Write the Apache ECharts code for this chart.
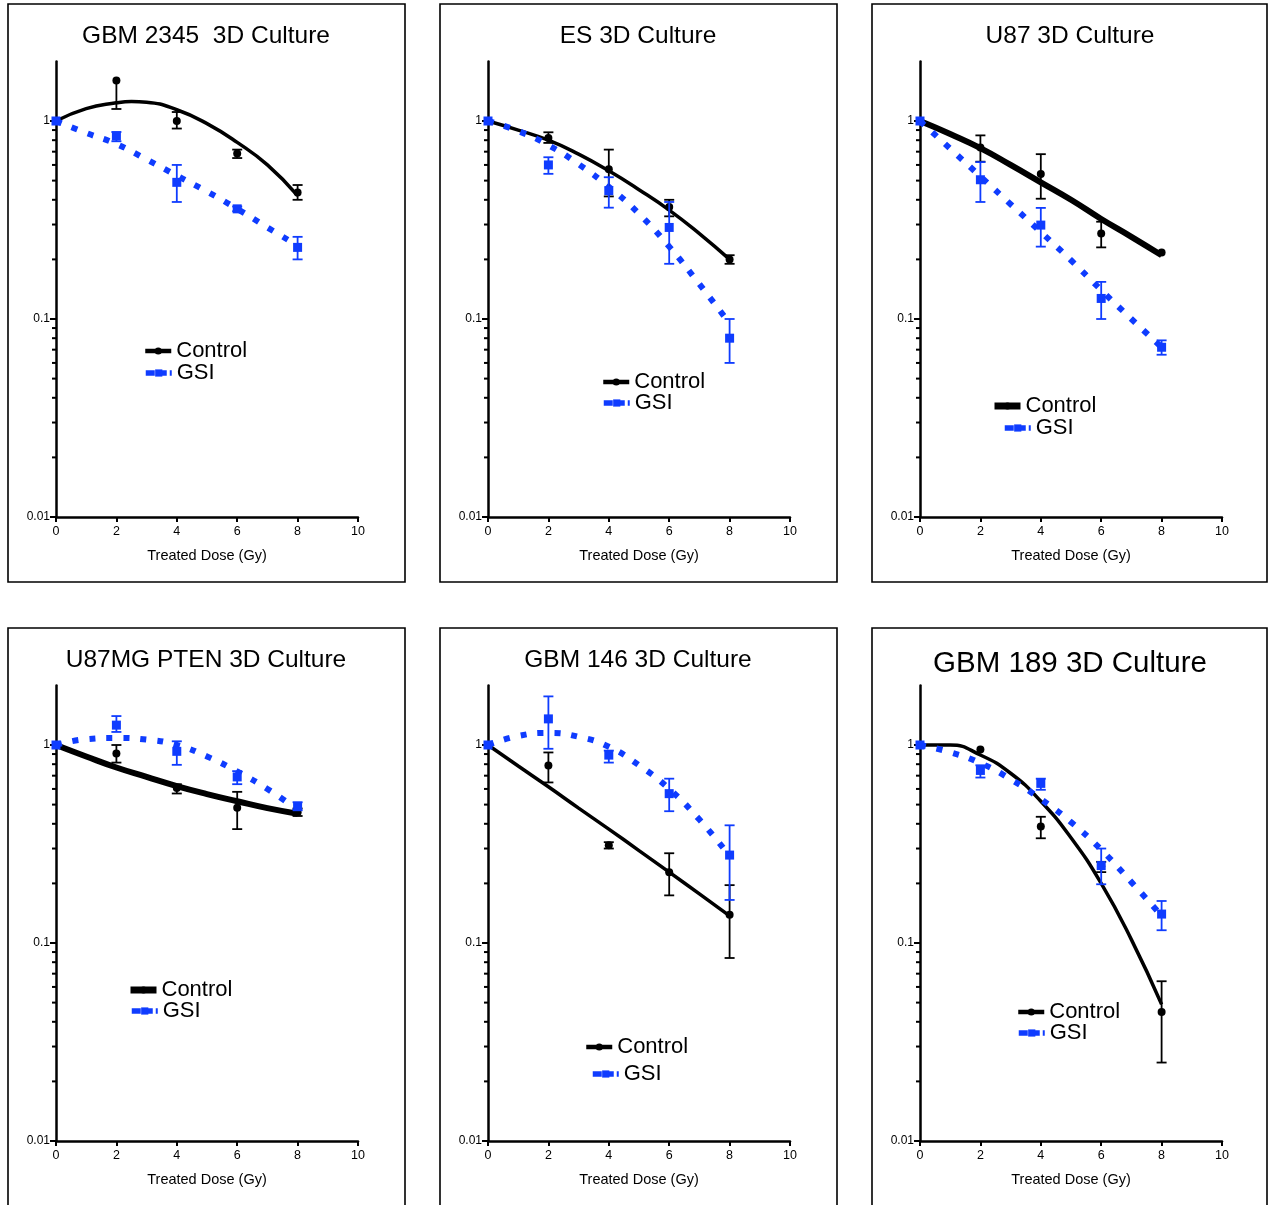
<!DOCTYPE html>
<html><head><meta charset="utf-8">
<script src="https://cdn.jsdelivr.net/npm/echarts@6/dist/echarts.min.js"></script>
<style>html,body{margin:0;padding:0;background:#fff}#c{width:1268px;height:1205px}</style>
</head><body><div id="c"></div><script>
// ---------- DATA ----------
const doses = [0, 2, 4, 6, 8];
const fitDoses = [0, 1, 2, 3, 4, 5, 6, 7, 8];
const fitDosesPeak = [0, 1, 2, 2.5, 3, 4, 5, 6, 7, 8];
const yMajorTicks = [0.01, 0.1, 1];
const yMinorTicks = [0.02, 0.03, 0.04, 0.05, 0.06, 0.07, 0.08, 0.09, 0.2, 0.3, 0.4, 0.5, 0.6, 0.7, 0.8, 0.9];
const xAxisTitle = 'Treated Dose (Gy)';
const seriesLabels = ['Control', 'GSI'];
const panelTitles = ['GBM 2345  3D Culture', 'ES 3D Culture', 'U87 3D Culture', 'U87MG PTEN 3D Culture', 'GBM 146 3D Culture', 'GBM 189 3D Culture'];

// GBM 2345
const gbm2345CtrlMean = [1, 1.60, 1.00, 0.686, 0.435];
const gbm2345CtrlLow  = [1, 1.15, 0.916, 0.65, 0.40];
const gbm2345CtrlHigh = [1, 1.60, 1.11, 0.717, 0.475];
const gbm2345CtrlFit  = [1, 1.155, 1.235, 1.255, 1.245, 1.14, 0.97, 0.78, 0.60, 0.42];   // at fitDosesPeak
const gbm2345GsiMean  = [1, 0.84, 0.49, 0.36, 0.23];
const gbm2345GsiLow   = [1, 0.79, 0.39, 0.35, 0.20];
const gbm2345GsiHigh  = [1, 0.88, 0.60, 0.37, 0.26];
const gbm2345GsiFit   = [1, 0.87, 0.765, 0.64, 0.53, 0.44, 0.36, 0.29, 0.235];
// ES
const esCtrlMean = [1, 0.82, 0.57, 0.368, 0.20];
const esCtrlLow  = [1, 0.775, 0.416, 0.33, 0.19];
const esCtrlHigh = [1, 0.877, 0.717, 0.40, 0.21];
const esCtrlFit  = [1, 0.90, 0.80, 0.68, 0.56, 0.45, 0.355, 0.27, 0.20];
const esGsiMean  = [1, 0.60, 0.445, 0.29, 0.08];
const esGsiLow   = [1, 0.541, 0.365, 0.19, 0.06];
const esGsiHigh  = [1, 0.656, 0.52, 0.39, 0.10];
const esGsiFit   = [1, 0.89, 0.755, 0.605, 0.465, 0.34, 0.232, 0.15, 0.095];
// U87
const u87CtrlMean = [1, 0.735, 0.54, 0.27, 0.217];
const u87CtrlLow  = [1, 0.623, 0.405, 0.23, 0.217];
const u87CtrlHigh = [1, 0.846, 0.68, 0.31, 0.217];
const u87CtrlFit  = [1, 0.86, 0.73, 0.60, 0.49, 0.40, 0.32, 0.26, 0.21];
const u87GsiMean  = [1, 0.505, 0.298, 0.127, 0.072];
const u87GsiLow   = [1, 0.39, 0.232, 0.10, 0.066];
const u87GsiHigh  = [1, 0.62, 0.364, 0.154, 0.078];
const u87GsiFit   = [1, 0.725, 0.525, 0.38, 0.275, 0.198, 0.14, 0.10, 0.072];
// U87MG PTEN
const ptenCtrlMean = [1, 0.905, 0.607, 0.482, 0.457];
const ptenCtrlLow  = [1, 0.815, 0.569, 0.376, 0.438];
const ptenCtrlHigh = [1, 1.0, 0.634, 0.58, 0.478];
const ptenCtrlFit  = [1, 0.875, 0.77, 0.69, 0.62, 0.565, 0.52, 0.48, 0.45];
const ptenGsiMean  = [1, 1.26, 0.929, 0.69, 0.49];
const ptenGsiLow   = [1, 1.164, 0.794, 0.634, 0.468];
const ptenGsiHigh  = [1, 1.40, 1.044, 0.738, 0.514];
const ptenGsiFit   = [1, 1.07, 1.085, 1.065, 1.0, 0.875, 0.735, 0.60, 0.47];
// GBM 146
const gbm146CtrlMean = [1, 0.787, 0.312, 0.228, 0.139];
const gbm146CtrlLow  = [1, 0.647, 0.30, 0.174, 0.084];
const gbm146CtrlHigh = [1, 0.917, 0.323, 0.284, 0.196];
const gbm146CtrlFit  = [1, 0.783, 0.615, 0.48, 0.376, 0.293, 0.228, 0.177, 0.137];
const gbm146GsiMean  = [1, 1.355, 0.889, 0.568, 0.278];
const gbm146GsiLow   = [1, 0.957, 0.815, 0.463, 0.165];
const gbm146GsiHigh  = [1, 1.76, 0.937, 0.676, 0.393];
const gbm146GsiFit   = [1, 1.11, 1.15, 1.10, 0.98, 0.79, 0.60, 0.42, 0.275];
// GBM 189
const gbm189CtrlMean = [1, 0.95, 0.388, 0.244, 0.0448];
const gbm189CtrlLow  = [1, 0.95, 0.338, 0.228, 0.0249];
const gbm189CtrlHigh = [1, 0.95, 0.434, 0.257, 0.0641];
const gbm189CtrlFit  = [1, 1.0, 0.89, 0.72, 0.52, 0.34, 0.20, 0.104, 0.049];
const gbm189GsiMean  = [1, 0.744, 0.64, 0.246, 0.14];
const gbm189GsiLow   = [1, 0.685, 0.594, 0.198, 0.116];
const gbm189GsiHigh  = [1, 0.79, 0.676, 0.30, 0.163];
const gbm189GsiFit   = [1, 0.92, 0.81, 0.672, 0.533, 0.408, 0.296, 0.203, 0.137];

const panelData = [
  {ctrl: [gbm2345CtrlMean, gbm2345CtrlLow, gbm2345CtrlHigh, gbm2345CtrlFit, fitDosesPeak], gsi: [gbm2345GsiMean, gbm2345GsiLow, gbm2345GsiHigh, gbm2345GsiFit, fitDoses]},
  {ctrl: [esCtrlMean, esCtrlLow, esCtrlHigh, esCtrlFit, fitDoses], gsi: [esGsiMean, esGsiLow, esGsiHigh, esGsiFit, fitDoses]},
  {ctrl: [u87CtrlMean, u87CtrlLow, u87CtrlHigh, u87CtrlFit, fitDoses], gsi: [u87GsiMean, u87GsiLow, u87GsiHigh, u87GsiFit, fitDoses]},
  {ctrl: [ptenCtrlMean, ptenCtrlLow, ptenCtrlHigh, ptenCtrlFit, fitDoses], gsi: [ptenGsiMean, ptenGsiLow, ptenGsiHigh, ptenGsiFit, fitDoses]},
  {ctrl: [gbm146CtrlMean, gbm146CtrlLow, gbm146CtrlHigh, gbm146CtrlFit, fitDoses], gsi: [gbm146GsiMean, gbm146GsiLow, gbm146GsiHigh, gbm146GsiFit, fitDoses]},
  {ctrl: [gbm189CtrlMean, gbm189CtrlLow, gbm189CtrlHigh, gbm189CtrlFit, fitDoses], gsi: [gbm189GsiMean, gbm189GsiLow, gbm189GsiHigh, gbm189GsiFit, fitDoses]}
];

// ---------- LAYOUT / STYLE ----------
const FONT = 'Liberation Sans, Arial, sans-serif';
const BLUE = '#0f3cff';
const ctrlWidths = [3.5, 3.5, 6, 6, 3.5, 3.5];
const titleSizes = [24.5, 24.5, 24.5, 24.5, 24.5, 29.5];
const titleCY = [36, 36, 36, 660, 660, 664];
// legend text-left x, text-center y for [Control, GSI]
const legendPos = [
  [[175, 351], [175, 373]],
  [[633, 382], [633, 403]],
  [[1023, 406], [1034, 428]],
  [[159, 990], [161, 1011]],
  [[616, 1047], [622, 1074]],
  [[1048, 1012], [1048, 1033]]
];

const grids = [], xAxes = [], yAxes = [], series = [], titles = [], legends = [], boxes = [];
function isMajor(v) { const l = Math.log10(v); return Math.abs(l - Math.round(l)) < 1e-6; }

for (let i = 0; i < 6; i++) {
  const col = i % 3, row = Math.floor(i / 3);
  const left = 56 + 432 * col;
  const top = row === 0 ? 61.4 : 685.4;
  grids.push({left: left, top: top, width: 302, height: 455.6, containLabel: false});
  boxes.push({type: 'rect', shape: {x: 8 + 432 * col, y: row === 0 ? 4 : 628, width: col === 2 ? 395 : 397, height: row === 0 ? 578 : 600},
    style: {fill: 'none', stroke: '#000', lineWidth: 1.6}, silent: true});
  xAxes.push({gridIndex: i, type: 'value', min: 0, max: 10, interval: 2,
    axisLine: {lineStyle: {color: '#000', width: 2.5}},
    axisTick: {length: 5, lineStyle: {color: '#000', width: 2}},
    axisLabel: {color: '#000', fontSize: 12.5, fontFamily: FONT, margin: 8},
    splitLine: {show: false},
    name: xAxisTitle, nameLocation: 'middle', nameGap: 31,
    nameTextStyle: {color: '#000', fontSize: 14.5, fontFamily: FONT}});
  yAxes.push({gridIndex: i, type: 'log', logBase: 10, min: 0.01, max: 2,
    axisLine: {onZero: false, lineStyle: {color: '#000', width: 2.5}},
    axisTick: {show: false}, splitLine: {show: false}, minorTick: {show: false},
    axisLabel: {color: '#000', fontSize: 12, fontFamily: FONT, margin: 6,
      formatter: v => (isMajor(v) && v <= 1.0001) ? String(+(+v).toPrecision(3)) : ''}});
  titles.push({text: panelTitles[i], left: 206 + 432 * col, top: titleCY[i] - titleSizes[i] / 2, textAlign: 'center', padding: 0,
    textStyle: {fontSize: titleSizes[i], fontWeight: 'normal', color: '#000', fontFamily: FONT, lineHeight: titleSizes[i]}});

  const d = panelData[i];
  const cName = seriesLabels[0] + '|' + i, gName = seriesLabels[1] + '|' + i;
  series.push({type: 'line', name: cName, xAxisIndex: i, yAxisIndex: i, smooth: 0.5, smoothConstraint: false, showSymbol: false,
    symbol: 'circle', symbolSize: 8, data: d.ctrl[4].map((x, k) => [x, d.ctrl[3][k]]),
    lineStyle: {color: '#000', width: ctrlWidths[i]}, itemStyle: {color: '#000'}, z: 3, silent: true});
  series.push({type: 'line', name: gName, xAxisIndex: i, yAxisIndex: i, smooth: 0.5, smoothConstraint: false, showSymbol: false,
    symbol: 'rect', symbolSize: 9, data: d.gsi[4].map((x, k) => [x, d.gsi[3][k]]),
    lineStyle: {color: BLUE, width: 6, type: [6, 11], cap: 'butt'}, itemStyle: {color: BLUE}, z: 4, silent: true});
  series.push({type: 'scatter', name: cName, xAxisIndex: i, yAxisIndex: i, symbol: 'circle', symbolSize: 8,
    data: doses.map((x, k) => [x, d.ctrl[0][k]]), itemStyle: {color: '#000', opacity: 1}, z: 5, silent: true});
  series.push({type: 'scatter', name: gName, xAxisIndex: i, yAxisIndex: i, symbol: 'rect', symbolSize: 9,
    data: doses.map((x, k) => [x, d.gsi[0][k]]), itemStyle: {color: BLUE, opacity: 1}, z: 6, silent: true});
  [[d.ctrl, '#000', cName, 5], [d.gsi, BLUE, gName, 6]].forEach(([s, color, nm, z]) => {
    series.push({type: 'custom', name: nm, xAxisIndex: i, yAxisIndex: i, silent: true, z: z,
      data: doses.map((x, k) => [x, s[0][k], s[1][k], s[2][k]]),
      encode: {x: 0, y: 1},
      renderItem: (params, api) => {
        const x = api.value(0), m = api.value(1), lo = api.value(2), hi = api.value(3);
        if (lo === hi) return null;
        const pl = api.coord([x, lo]), ph = api.coord([x, hi]);
        const st = {stroke: color, lineWidth: 1.8};
        const ch = [{type: 'line', shape: {x1: pl[0], y1: pl[1], x2: ph[0], y2: ph[1]}, style: st}];
        if (lo !== m) ch.push({type: 'line', shape: {x1: pl[0] - 5, y1: pl[1], x2: pl[0] + 5, y2: pl[1]}, style: st});
        if (hi !== m) ch.push({type: 'line', shape: {x1: ph[0] - 5, y1: ph[1], x2: ph[0] + 5, y2: ph[1]}, style: st});
        return {type: 'group', children: ch};
      }});
  });
  // y-axis ticks (major + minor) on the log scale
  series.push({type: 'custom', xAxisIndex: i, yAxisIndex: i, silent: true, z: 1,
    data: yMajorTicks.map(v => [0, v, 1]).concat(yMinorTicks.map(v => [0, v, 0])),
    encode: {x: 0, y: 1},
    renderItem: (params, api) => {
      const p = api.coord([0, api.value(1)]);
      const len = api.value(2) ? 6 : 4;
      return {type: 'line', shape: {x1: p[0] - len, y1: p[1], x2: p[0], y2: p[1]}, style: {stroke: '#000', lineWidth: 2}};
    }});

  [cName, gName].forEach((nm, j) => {
    const [tx, ty] = legendPos[i][j];
    const ls = j === 0 ? {width: ctrlWidths[i] + 1, type: 'solid'} : {width: 5.5, type: [9, 3], cap: 'butt'};
    legends.push({data: [nm], left: tx - 32, top: ty - 11, padding: 0, itemWidth: 26, itemHeight: 9,
      selectedMode: false, formatter: () => seriesLabels[j], lineStyle: ls,
      textStyle: {fontSize: 22, color: '#000', fontFamily: FONT, lineHeight: 22}});
  });
}

const chart = echarts.init(document.getElementById('c'), null, {renderer: 'canvas'});
chart.setOption({
  backgroundColor: '#fff', animation: false,
  title: titles, legend: legends, grid: grids, xAxis: xAxes, yAxis: yAxes, series: series,
  graphic: {elements: boxes}
});
</script></body></html>
